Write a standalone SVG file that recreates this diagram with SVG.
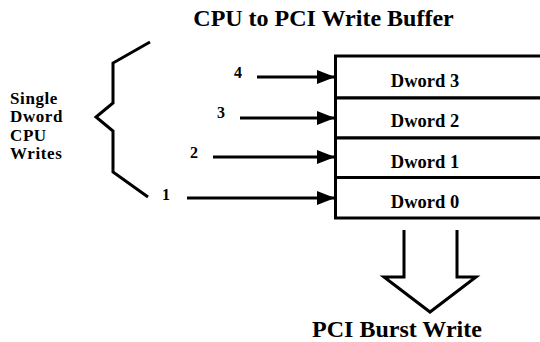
<svg xmlns="http://www.w3.org/2000/svg" width="540" height="342" viewBox="0 0 540 342">
<style>
text{font-family:"Liberation Serif","Times New Roman",serif;font-weight:bold;fill:#000}
.t{font-size:24px;text-anchor:middle}
.lbl{font-size:17px;letter-spacing:0.6px}
.dw{font-size:18.5px;text-anchor:middle}
.num{font-size:16px;text-anchor:middle}
.row{fill:#fff;stroke:#000;stroke-width:3}
.ln{stroke:#000;stroke-width:3;fill:none}
</style>
<defs>
<marker id="ah" markerWidth="18" markerHeight="14" refX="18" refY="7" orient="auto" markerUnits="userSpaceOnUse">
<path d="M0,0 L18,7 L0,14 Z" fill="#000"/>
</marker>
</defs>
<rect width="540" height="342" fill="#fff"/>
<text class="t" x="323.5" y="26">CPU to PCI Write Buffer</text>
<g id="label-cpu-writes">
<text class="lbl" x="10" y="103.5">Single</text>
<text class="lbl" x="10" y="122">Dword</text>
<text class="lbl" x="10" y="140.5">CPU</text>
<text class="lbl" x="10" y="158.5">Writes</text>
</g>
<g id="brace">
<path class="ln" stroke-width="3.5" d="M150,42 L113,63 L113,103 L96,117 L113,131 L113,172 L148,197"/>
</g>
<g id="dword3"><rect class="row" x="335.5" y="56" width="230" height="42"/><text class="dw" x="425" y="87">Dword 3</text></g>
<g id="dword2"><rect class="row" x="335.5" y="98" width="230" height="40"/><text class="dw" x="425" y="127">Dword 2</text></g>
<g id="dword1"><rect class="row" x="335.5" y="138" width="230" height="39.5"/><text class="dw" x="425" y="168">Dword 1</text></g>
<g id="dword0"><rect class="row" x="335.5" y="177.5" width="230" height="40.5"/><text class="dw" x="425" y="208">Dword 0</text></g>
<g id="numbers">
<text class="num" x="238" y="78">4</text>
<text class="num" x="221" y="118">3</text>
<text class="num" x="194" y="158">2</text>
<text class="num" x="166" y="200">1</text>
</g>
<g id="connectors">
<line class="ln" x1="257" y1="77" x2="335" y2="77" marker-end="url(#ah)"/>
<line class="ln" x1="240" y1="118" x2="335" y2="118" marker-end="url(#ah)"/>
<line class="ln" x1="213" y1="157" x2="335" y2="157" marker-end="url(#ah)"/>
<line class="ln" x1="187" y1="198" x2="335" y2="198" marker-end="url(#ah)"/>
<path id="burst-arrow" class="ln" d="M404,230 L404,277 L384,277 L430,312 L476,277 L457,277 L457,230"/>
</g>
<text class="t" x="397" y="337">PCI Burst Write</text>
</svg>
